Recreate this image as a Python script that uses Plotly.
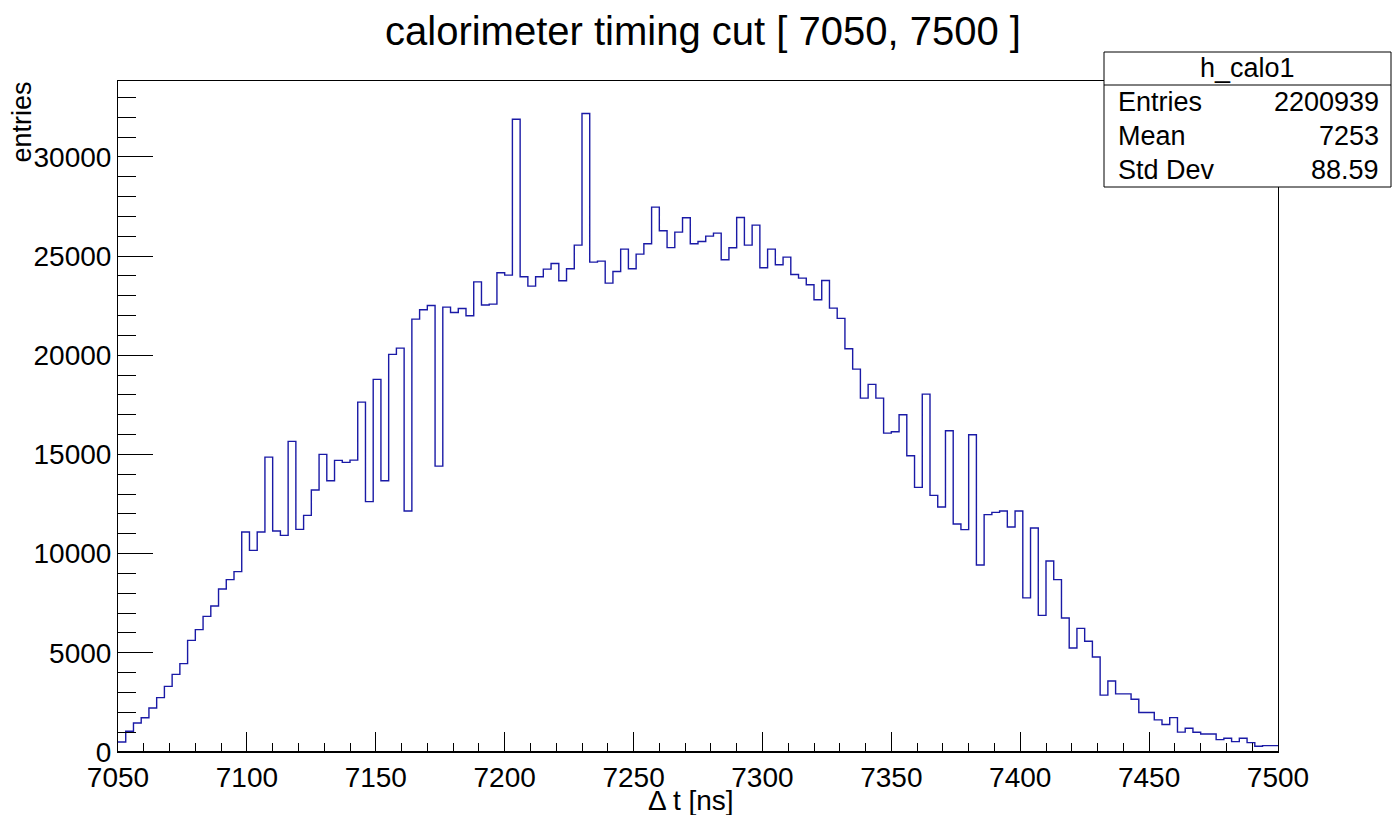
import numpy as np
import plotly.graph_objects as go

# ---- data ----
x_min, x_max = 7050, 7500
bin_width = 3
counts = [
    504, 1043, 1462, 1730, 2218, 2742, 3311, 3916, 4455, 5630,
    6169, 6840, 7359, 8216, 8689, 9093, 11089, 10166, 11089, 14869,
    11139, 10922, 15660, 11224, 11930, 13206, 15005, 13679, 14703, 14602,
    14718, 17641, 12621, 18785, 13679, 20045, 20363, 12147, 21825, 22298,
    22515, 14415, 22429, 22161, 22363, 21996, 23704, 22540, 22581, 24163,
    24042, 31905, 23962, 23488, 23962, 24345, 24632, 23760, 24365, 25555,
    32191, 24698, 24748, 23639, 24229, 25353, 24365, 25101, 25623, 27470,
    26280, 25430, 26210, 26935, 25625, 25741, 26008, 26159, 24818, 25423,
    26950, 25555, 26563, 24415, 25353, 24567, 24950, 24077, 23891, 23558,
    22802, 23775, 22379, 21860, 20333, 19304, 17843, 18534, 17843, 16079,
    16149, 17006, 14939, 13341, 18044, 12938, 12349, 16200, 11492, 11210,
    15998, 9425, 11966, 12081, 12147, 11341, 12147, 7770, 11290, 6890,
    9627, 8689, 6754, 5242, 6235, 5580, 4788, 2865, 3579, 2930,
    2930, 2656, 1990, 1990, 1620, 1390, 1734, 1000, 1195, 993,
    907, 907, 625, 691, 524, 691, 474, 287, 323, 323,
]
title_text = "calorimeter timing cut [ 7050, 7500 ]"
hist_name = "h_calo1"
stat_labels = ["Entries", "Mean", "Std Dev"]
stat_values = ["2200939", "7253", "88.59"]
x_title = "Δ t [ns]"
y_title = "entries"

# ---- geometry (pixels) ----
W, H = 1392, 815
L, R, T, B = 118, 1278, 81, 752
y_top = 33830

def px(xp):
    return (xp - L) / (R - L)

def py(yp):
    return (B - yp) / (B - T)

edges = x_min + bin_width * np.arange(len(counts) + 1)
ys = np.append(np.array(counts, dtype=float), counts[-1])

line_col = "#1a1aa6"
font_family = "Liberation Sans, Arial, sans-serif"

fig = go.Figure()
fig.add_trace(go.Scatter(
    x=edges, y=ys, mode="lines", line=dict(color=line_col, width=1.4, shape="hv"),
    showlegend=False, hoverinfo="skip",
))

fig.update_layout(
    width=W, height=H, template="none",
    paper_bgcolor="white", plot_bgcolor="white",
    margin=dict(l=L, r=W - R, t=T, b=H - B, pad=0),
    font=dict(family=font_family, color="black", size=28),
    showlegend=False,
)

fig.update_xaxes(
    range=[x_min, x_max], showgrid=False, zeroline=False,
    showline=True, linecolor="black", linewidth=1, mirror=True,
    ticks="inside", ticklen=20, tickwidth=1, tickcolor="black",
    dtick=50, tick0=0, tickformat="d", tickfont=dict(size=28),
    minor=dict(ticks="inside", ticklen=9, dtick=10, tickcolor="black", tickwidth=1, showgrid=False),
)
fig.update_yaxes(
    range=[0, y_top], showgrid=False, zeroline=False,
    showline=True, linecolor="black", linewidth=1, mirror=True,
    ticks="inside", ticklen=35, tickwidth=1, tickcolor="black",
    dtick=5000, tick0=0, tickformat="d", tickfont=dict(size=28),
    minor=dict(ticks="inside", ticklen=18, dtick=1000, tickcolor="black", tickwidth=1, showgrid=False),
)

shapes = []
# thicker x-axis line
shapes.append(dict(type="line", xref="paper", yref="paper", x0=0, x1=1, y0=0, y1=0,
                   line=dict(color="black", width=2), layer="above"))
# stats box
bx0, bx1, by0, by1 = 1104, 1391, 52, 187
sep = 85
shapes.append(dict(type="rect", xref="paper", yref="paper",
                   x0=px(bx0), x1=px(bx1), y0=py(by1), y1=py(by0),
                   line=dict(color="black", width=1), fillcolor="white", layer="above"))
shapes.append(dict(type="line", xref="paper", yref="paper",
                   x0=px(bx0), x1=px(bx1), y0=py(sep), y1=py(sep),
                   line=dict(color="black", width=1), layer="above"))

annotations = []
annotations.append(dict(text=title_text, xref="paper", yref="paper",
                        x=px(703), y=py(31), xanchor="center", yanchor="middle",
                        showarrow=False, font=dict(size=40)))
annotations.append(dict(text=x_title, xref="paper", yref="paper",
                        x=px(691), y=py(800), xanchor="center", yanchor="middle",
                        showarrow=False, font=dict(size=28)))
annotations.append(dict(text=y_title, xref="paper", yref="paper",
                        x=px(22), y=py(80), xanchor="center", yanchor="top",
                        textangle=-90, showarrow=False, font=dict(size=27)))
annotations.append(dict(text=hist_name, xref="paper", yref="paper",
                        x=px((bx0 + bx1) / 2), y=py((by0 + sep) / 2), xanchor="center", yanchor="middle",
                        showarrow=False, font=dict(size=27)))
row_h = (by1 - sep) / len(stat_labels)
for i, (lab, val) in enumerate(zip(stat_labels, stat_values)):
    yc = sep + row_h * (i + 0.5)
    annotations.append(dict(text=lab, xref="paper", yref="paper",
                            x=px(1116), y=py(yc), xanchor="left", yanchor="middle",
                            showarrow=False, font=dict(size=27)))
    annotations.append(dict(text=val, xref="paper", yref="paper",
                            x=px(1381), y=py(yc), xanchor="right", yanchor="middle",
                            showarrow=False, font=dict(size=27)))

fig.update_layout(shapes=shapes, annotations=annotations)
fig.write_html("out.html")
